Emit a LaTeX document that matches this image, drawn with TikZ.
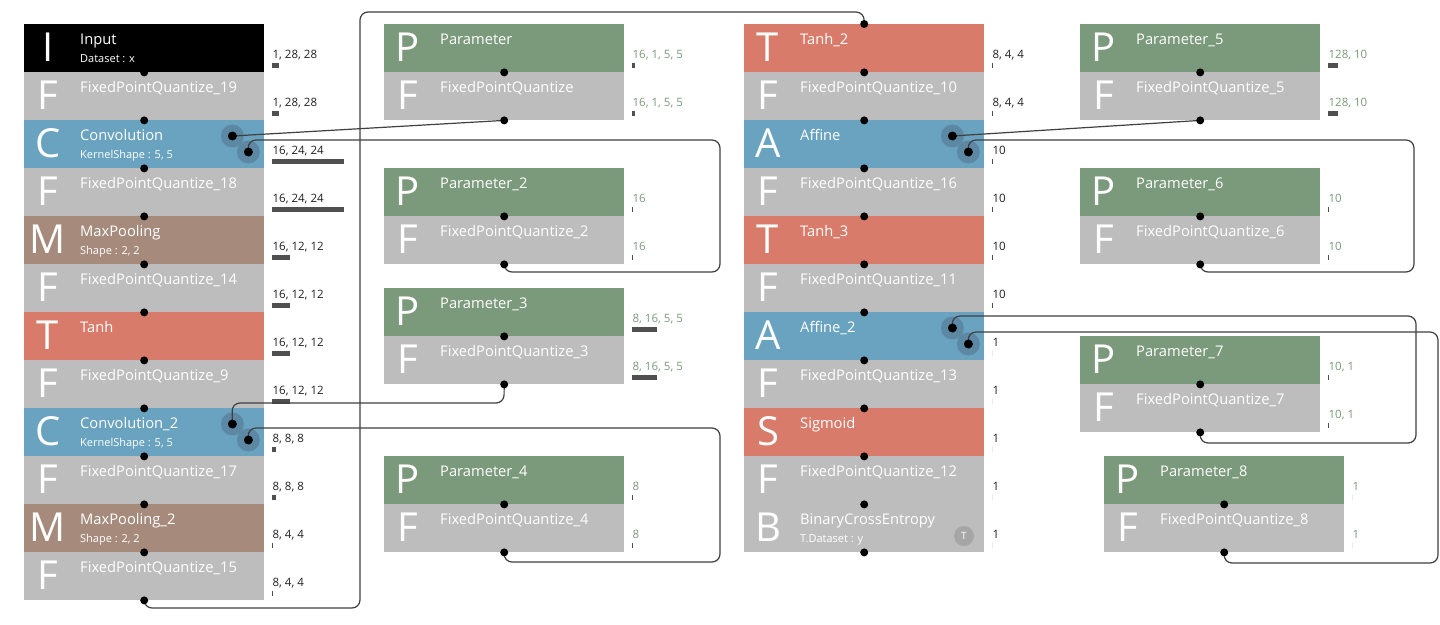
\documentclass[tikz,border=0pt]{standalone}
\usepackage{fontspec}
\setmainfont{Open Sans}
\usepackage{tikz}
\usepackage{xcolor}
\definecolor{cblack}{HTML}{000000}
\definecolor{cgray}{HTML}{BDBDBD}
\definecolor{cblue}{HTML}{69A3C0}
\definecolor{cbrown}{HTML}{A68B7D}
\definecolor{cred}{HTML}{D87B6A}
\definecolor{cgreen}{HTML}{7B9A7B}
\definecolor{chalo}{HTML}{5C88A3}
\definecolor{cbar}{HTML}{505050}
\definecolor{cwire}{HTML}{404040}
\definecolor{clbl}{HTML}{202020}
\definecolor{cbadge}{HTML}{A6A6A6}

\begin{document}
\begin{tikzpicture}[x=1pt, y=-1pt,
  blk/.style={rectangle, anchor=north west, minimum width=240pt, minimum height=48pt, inner sep=0pt},
  bigltr/.style={text=white, font=\fontsize{40}{40}\selectfont, anchor=base, inner sep=0pt},
  ttl/.style={text=white, font=\fontsize{14.7}{17}\selectfont, anchor=base west, inner sep=0pt},
  subttl/.style={text=white, font=\fontsize{11}{13}\selectfont, anchor=base west, inner sep=0pt},
  shplbl/.style={font=\fontsize{11.5}{13}\selectfont, anchor=base west, inner sep=0pt},
  halo/.style={circle, fill=chalo, minimum size=23pt, inner sep=0pt},
  wire/.style={draw=cwire, line width=1.2pt, rounded corners=8pt}]
\fill[white] (0,0) rectangle (1440,624);
\useasboundingbox (0,0) rectangle (1440,624);

% blocks: name/x/y/fill/letter/title/sub/shape/bar/label colour
\foreach \nm/\xx/\yy/\col/\ltr/\ttl/\sub/\shp/\bw/\tc in {
  inp/24/24/cblack/I/Input/{Dataset : x}/{1, 28, 28}/6.1/clbl,
  fq19/24/72/cgray/F/FixedPointQuantize\_19/{}/{1, 28, 28}/6.1/clbl,
  conv/24/120/cblue/C/Convolution/{KernelShape : 5, 5}/{16, 24, 24}/72/clbl,
  fq18/24/168/cgray/F/FixedPointQuantize\_18/{}/{16, 24, 24}/72/clbl,
  pool/24/216/cbrown/M/MaxPooling/{Shape : 2, 2}/{16, 12, 12}/18/clbl,
  fq14/24/264/cgray/F/FixedPointQuantize\_14/{}/{16, 12, 12}/18/clbl,
  tanh/24/312/cred/T/Tanh/{}/{16, 12, 12}/18/clbl,
  fq9/24/360/cgray/F/FixedPointQuantize\_9/{}/{16, 12, 12}/18/clbl,
  conv2/24/408/cblue/C/Convolution\_2/{KernelShape : 5, 5}/{8, 8, 8}/4/clbl,
  fq17/24/456/cgray/F/FixedPointQuantize\_17/{}/{8, 8, 8}/4/clbl,
  pool2/24/504/cbrown/M/MaxPooling\_2/{Shape : 2, 2}/{8, 4, 4}/1/clbl,
  fq15/24/552/cgray/F/FixedPointQuantize\_15/{}/{8, 4, 4}/1/clbl,
  par/384/24/cgreen/P/Parameter/{}/{16, 1, 5, 5}/3/cgreen,
  fq/384/72/cgray/F/FixedPointQuantize/{}/{16, 1, 5, 5}/3/cgreen,
  par2/384/168/cgreen/P/Parameter\_2/{}/{16}/0.2/cgreen,
  fq2/384/216/cgray/F/FixedPointQuantize\_2/{}/{16}/0.2/cgreen,
  par3/384/288/cgreen/P/Parameter\_3/{}/{8, 16, 5, 5}/25/cgreen,
  fq3/384/336/cgray/F/FixedPointQuantize\_3/{}/{8, 16, 5, 5}/25/cgreen,
  par4/384/456/cgreen/P/Parameter\_4/{}/{8}/0.1/cgreen,
  fq4/384/504/cgray/F/FixedPointQuantize\_4/{}/{8}/0.1/cgreen,
  tanh2/744/24/cred/T/Tanh\_2/{}/{8, 4, 4}/1/clbl,
  fq10/744/72/cgray/F/FixedPointQuantize\_10/{}/{8, 4, 4}/1/clbl,
  aff/744/120/cblue/A/Affine/{}/{10}/0.1/clbl,
  fq16/744/168/cgray/F/FixedPointQuantize\_16/{}/{10}/0.1/clbl,
  tanh3/744/216/cred/T/Tanh\_3/{}/{10}/0.1/clbl,
  fq11/744/264/cgray/F/FixedPointQuantize\_11/{}/{10}/0.1/clbl,
  aff2/744/312/cblue/A/Affine\_2/{}/{1}/0/clbl,
  fq13/744/360/cgray/F/FixedPointQuantize\_13/{}/{1}/0/clbl,
  sig/744/408/cred/S/Sigmoid/{}/{1}/0/clbl,
  fq12/744/456/cgray/F/FixedPointQuantize\_12/{}/{1}/0/clbl,
  bce/744/504/cgray/B/BinaryCrossEntropy/{T.Dataset : y}/{1}/0/clbl,
  par5/1080/24/cgreen/P/Parameter\_5/{}/{128, 10}/10/cgreen,
  fq5/1080/72/cgray/F/FixedPointQuantize\_5/{}/{128, 10}/10/cgreen,
  par6/1080/168/cgreen/P/Parameter\_6/{}/{10}/0.1/cgreen,
  fq6/1080/216/cgray/F/FixedPointQuantize\_6/{}/{10}/0.1/cgreen,
  par7/1080/336/cgreen/P/Parameter\_7/{}/{10, 1}/0.1/cgreen,
  fq7/1080/384/cgray/F/FixedPointQuantize\_7/{}/{10, 1}/0.1/cgreen,
  par8/1104/456/cgreen/P/Parameter\_8/{}/{1}/0/cgreen,
  fq8/1104/504/cgray/F/FixedPointQuantize\_8/{}/{1}/0/cgreen}
{
  \node[blk, fill=\col] (\nm) at (\xx,\yy) {};
  \node[bigltr] at ([xshift=24pt, yshift=-37pt]\nm.north west) {\ltr};
  \node[ttl] at ([xshift=56pt, yshift=-20pt]\nm.north west) {\ttl};
  \node[subttl] at ([xshift=56pt, yshift=-38.5pt]\nm.north west) {\sub};
  \node[shplbl, text=\tc] at ([xshift=8pt, yshift=-34pt]\nm.north east) {\shp};
  \fill[cbar] ([xshift=8pt, yshift=-39pt]\nm.north east) rectangle ++(\bw,5);
}

% input ports of the weighted layers
\node[halo] (convA) at ([xshift=-32pt, yshift=-16pt]conv.north east) {};
\node[halo] (convB) at ([xshift=-16pt, yshift=-32pt]conv.north east) {};
\node[halo] (conv2A) at ([xshift=-32pt, yshift=-16pt]conv2.north east) {};
\node[halo] (conv2B) at ([xshift=-16pt, yshift=-32pt]conv2.north east) {};
\node[halo] (affA) at ([xshift=-32pt, yshift=-16pt]aff.north east) {};
\node[halo] (affB) at ([xshift=-16pt, yshift=-32pt]aff.north east) {};
\node[halo] (aff2A) at ([xshift=-32pt, yshift=-16pt]aff2.north east) {};
\node[halo] (aff2B) at ([xshift=-16pt, yshift=-32pt]aff2.north east) {};

\node[circle, fill=cbadge, minimum size=20pt, inner sep=0pt, text=white,
  font=\fontsize{10}{10}\selectfont] (badge) at (964,536) {T};

% connectors
\draw[wire] (fq15.south) -- (144,608) -- (360,608) -- (360,12) -- (864,12) -- (tanh2.north);
\draw[wire] (fq.south) -- (convA.center);
\draw[wire] (convB.center) -- (248,140) -- (720,140) -- (720,272) -- (504,272) -- (fq2.south);
\draw[wire] (conv2A.center) -- (232,403) -- (504,403) -- (fq3.south);
\draw[wire] (conv2B.center) -- (248,428) -- (720,428) -- (720,562) -- (504,562) -- (fq4.south);
\draw[wire] (fq5.south) -- (affA.center);
\draw[wire] (affB.center) -- (968,140) -- (1414,140) -- (1414,272) -- (1200,272) -- (fq6.south);
\draw[wire] (aff2A.center) -- (952,316) -- (1416,316) -- (1416,443) -- (1200,443) -- (fq7.south);
\draw[wire] (aff2B.center) -- (968,332) -- (1438,332) -- (1438,563) -- (1224,563) -- (fq8.south);

% dots
\foreach \nm in {inp,fq19,conv,fq18,pool,fq14,tanh,fq9,conv2,fq17,pool2,fq15,
  par,fq,par2,fq2,par3,fq3,par4,fq4,tanh2,fq10,aff,fq16,tanh3,fq11,aff2,fq13,
  sig,fq12,bce,par5,fq5,par6,fq6,par7,fq7,par8,fq8}
  \fill (\nm.south) circle (4pt);
\fill (tanh2.north) circle (4pt);
\foreach \nm in {convA,convB,conv2A,conv2B,affA,affB,aff2A,aff2B}
  \fill (\nm) circle (4.5pt);
\end{tikzpicture}
\end{document}
